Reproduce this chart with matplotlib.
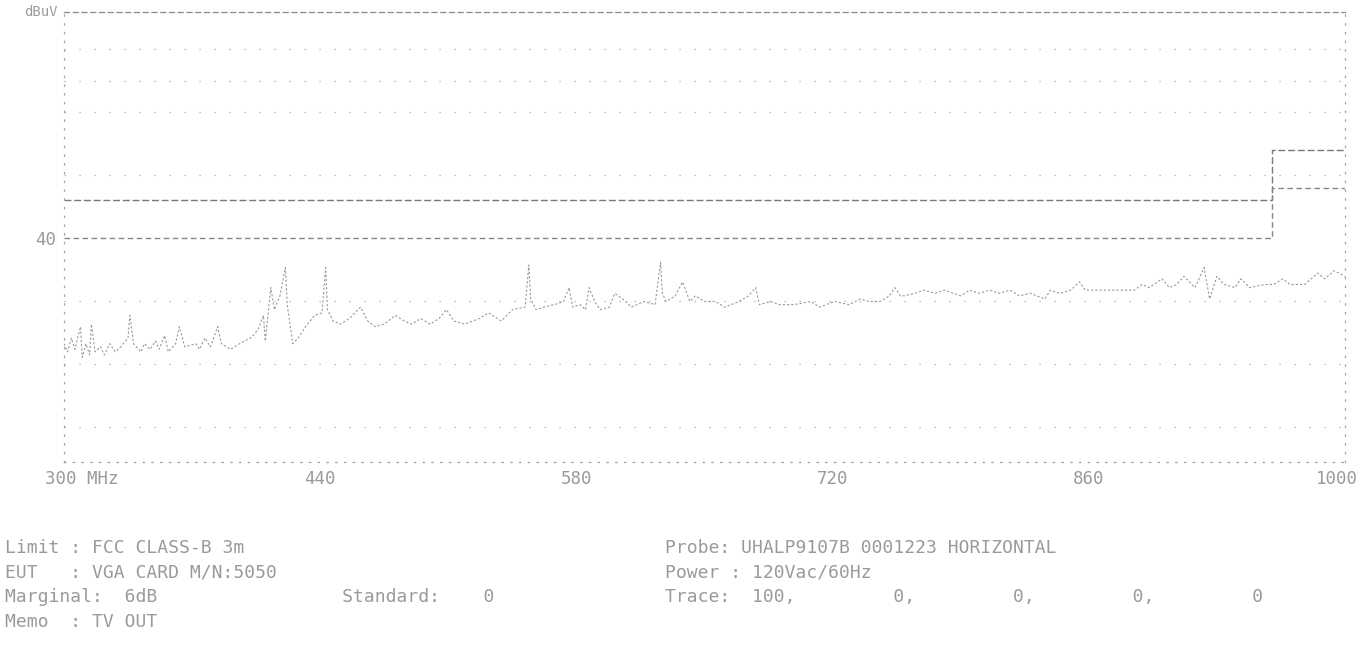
import matplotlib
matplotlib.use("Agg")
import matplotlib.pyplot as plt
import matplotlib.transforms as mtransforms

# scan 300 MHz - 1 GHz, peak trace (dBuV)
freq_mhz = [
    300, 302, 304, 306, 309, 310, 312, 314, 315, 317,
    320, 322, 325, 328, 331, 335, 336, 338, 342, 344,
    347, 350, 352, 355, 357, 361, 363, 366, 372, 374,
    377, 380, 384, 386, 391, 396, 402, 406, 409, 410,
    413, 415, 418, 421, 422, 425, 428, 432, 437, 441,
    443, 444, 447, 451, 456, 462, 466, 470, 475, 481,
    486, 490, 495, 500, 505, 509, 513, 519, 527, 532,
    539, 545, 552, 554, 555, 558, 562, 568, 573, 576,
    578, 582, 585, 587, 590, 593, 598, 601, 607, 610,
    617, 623, 626, 627, 629, 634, 638, 642, 645, 650,
    656, 661, 669, 674, 678, 680, 686, 691, 699, 708,
    713, 721, 729, 735, 740, 746, 751, 754, 757, 759,
    765, 770, 776, 781, 790, 795, 800, 806, 811, 817,
    822, 828, 836, 839, 844, 850, 855, 858, 863, 872,
    877, 885, 889, 893, 900, 904, 908, 912, 918, 923,
    926, 930, 934, 940, 943, 948, 956, 961, 966, 970,
    978, 985, 989, 994, 1000,
]
level_dbuv = [
    23.2, 21.9, 24.1, 22.3, 25.9, 21.0, 23.2, 21.4, 26.3, 21.9,
    22.7, 21.4, 23.2, 21.9, 22.7, 24.1, 27.7, 23.2, 21.9, 23.2,
    22.3, 23.6, 22.3, 24.5, 21.9, 23.2, 25.9, 22.7, 23.2, 22.3,
    24.1, 22.7, 25.9, 23.2, 22.3, 23.2, 24.1, 25.4, 27.7, 23.6,
    32.1, 28.6, 30.8, 35.3, 29.4, 23.2, 24.1, 25.9, 27.7, 28.1,
    35.3, 28.6, 26.8, 26.3, 27.2, 29.0, 26.8, 25.9, 26.3, 27.7,
    26.8, 26.3, 27.2, 26.3, 27.2, 28.6, 26.8, 26.3, 27.2, 28.1,
    26.8, 28.6, 29.0, 35.7, 30.3, 28.6, 29.0, 29.4, 29.9, 32.1,
    29.0, 29.4, 28.6, 32.1, 29.9, 28.6, 29.0, 31.2, 29.9, 29.0,
    29.9, 29.4, 36.1, 31.2, 29.9, 30.8, 33.0, 29.9, 30.8, 29.9,
    29.9, 29.0, 29.9, 30.8, 32.1, 29.4, 29.9, 29.4, 29.4, 29.9,
    29.0, 29.9, 29.4, 30.3, 29.9, 29.9, 30.8, 32.1, 30.8, 30.8,
    31.2, 31.7, 31.2, 31.7, 30.8, 31.7, 31.2, 31.7, 31.2, 31.7,
    30.8, 31.2, 30.3, 31.7, 31.2, 31.7, 33.0, 31.7, 31.7, 31.7,
    31.7, 31.7, 32.6, 32.1, 33.5, 32.1, 32.6, 33.9, 32.1, 35.3,
    30.3, 33.9, 32.6, 32.1, 33.5, 32.1, 32.6, 32.6, 33.5, 32.6,
    32.6, 34.4, 33.5, 34.8, 33.9,
]

# FCC class B (3 m) limit and the 6 dB margin line
limit_freq = [300, 960, 960, 1000]
limit_level = [46, 46, 54, 54]
margin_level = [40, 40, 48, 48]

grid_levels = [10, 20, 30, 50, 60, 65, 70]
x_ticks = [300, 440, 580, 720, 860, 1000]
x_tick_labels = ["300 MHz", "440", "580", "720", "860", "1000"]

left_notes = [
    "Limit : FCC CLASS-B 3m",
    "EUT   : VGA CARD M/N:5050",
    "Marginal:  6dB                 Standard:    0",
    "Memo  : TV OUT",
]
right_notes = [
    "Probe: UHALP9107B 0001223 HORIZONTAL",
    "Power : 120Vac/60Hz",
    "Trace:  100,         0,         0,         0,         0",
]

INK = "#9a9a9a"
MONO = "DejaVu Sans Mono"

fig = plt.figure(figsize=(13.67, 6.55), dpi=100)
ax = fig.add_axes([0.0468, 0.2947, 0.9371, 0.687])
ax.set_xlim(300, 1000)
ax.set_ylim(4.4, 75.9)

for lv in grid_levels:
    ax.axhline(lv, color="#ababab", lw=0.9, linestyle=(0, (1, 11)))

ax.plot(limit_freq, limit_level, color="#7a7a7a", lw=1.0, linestyle=(0, (5, 2)))
ax.plot(limit_freq, margin_level, color="#858585", lw=1.0, linestyle=(0, (4, 2.5)))
ax.plot(freq_mhz, level_dbuv, color="#999999", lw=0.8, linestyle=(0, (2, 1.8)))

for side in ["left", "right", "bottom"]:
    ax.spines[side].set_linestyle((0, (1, 6)))
    ax.spines[side].set_color("#a0a0a0")
    ax.spines[side].set_linewidth(0.9)
ax.spines["top"].set_linestyle((0, (4, 3)))
ax.spines["top"].set_color("#8a8a8a")
ax.spines["top"].set_linewidth(0.9)

ax.set_xticks(x_ticks)
ax.set_xticklabels(x_tick_labels)
ax.set_yticks([40])
ax.set_yticklabels(["40"])
ax.tick_params(length=0, colors=INK, labelsize=12.5, pad=6)
for lbl in ax.get_xticklabels() + ax.get_yticklabels():
    lbl.set_family(MONO)

# first label starts left of the axis, last one sits a little inside
first = ax.get_xticklabels()[0]
first.set_horizontalalignment("left")
first.set_transform(first.get_transform() + mtransforms.ScaledTranslation(-0.19, 0, fig.dpi_scale_trans))
last = ax.get_xticklabels()[-1]
last.set_transform(last.get_transform() + mtransforms.ScaledTranslation(-0.08, 0, fig.dpi_scale_trans))

fig.text(0.018, 0.982, "dBuV", family=MONO, fontsize=10, color=INK, va="center")

row_y = [0.163, 0.126, 0.088, 0.050]
for y, s in zip(row_y, left_notes):
    fig.text(0.004, y, s, family=MONO, fontsize=13, color=INK, va="center")
for y, s in zip(row_y, right_notes):
    fig.text(0.4865, y, s, family=MONO, fontsize=13, color=INK, va="center")

fig.savefig("out.png", dpi=100)
